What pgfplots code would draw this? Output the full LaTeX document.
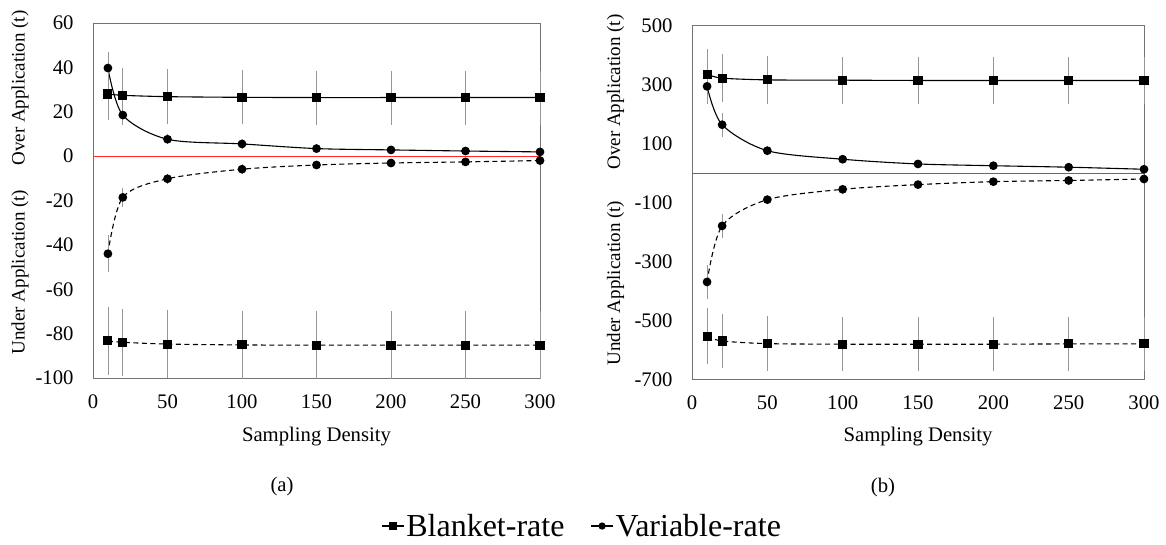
\documentclass[border=0pt]{standalone}
\usepackage{fontspec}
\setmainfont{Liberation Serif}
\usepackage{pgfplots}
\pgfplotsset{compat=1.18}
\usepackage{pgfplotstable}
\definecolor{zeroRed}{RGB}{255,40,40}
\definecolor{errGray}{RGB}{150,150,150}

\pgfplotstableread{
x y e
10 28.0 10.5
20 27.4 11
50 26.8 11
100 26.5 10.8
150 26.4 10.8
200 26.4 10.8
250 26.4 10.8
300 26.4 10.8
}\aBO
\pgfplotstableread{
x y e
10 39.7 6
20 18.5 3
50 7.6 1
100 5.5 0.8
150 3.4 0.5
200 2.8 0.5
250 2.3 0.4
300 1.9 0.4
}\aVO
\pgfplotstableread{
x y e
10 -44.0 7
20 -18.6 3
50 -10.2 1
100 -5.9 0.8
150 -4.0 0.5
200 -3.1 0.5
250 -2.6 0.4
300 -2.0 0.4
}\aVU
\pgfplotstableread{
x y e
10 -83.3 14
20 -83.9 13.7
50 -84.7 13.8
100 -85.1 14
150 -85.2 14
200 -85.2 14
250 -85.2 14
300 -85.2 14
}\aBU
\pgfplotstableread{
x y e
10 335 75
20 322 70
50 316 70
100 315 70
150 314 70
200 314 70
250 314 70
300 314 70
}\bBO
\pgfplotstableread{
x y e
10 294 50
20 164 30
50 76 5
100 47 4
150 31 3
200 25 3
250 20 3
300 13 2
}\bVO
\pgfplotstableread{
x y e
10 -369 48
20 -179 30
50 -90 5
100 -55 4
150 -39 3
200 -29 3
250 -25 3
300 -20 2
}\bVU
\pgfplotstableread{
x y e
10 -553 85
20 -569 82
50 -578 82
100 -580 82
150 -580 82
200 -580 82
250 -579 82
300 -579 82
}\bBU

\newcommand{\tfont}{\fontsize{20.7}{24}\selectfont}
\pgfplotsset{
  myaxis/.style={
    scale only axis, xmin=0, xmax=300, xtick={0,50,...,300},
    axis line style={draw=black!55, line width=0.8pt},
    major tick length=0pt,
    tick label style={font=\tfont},
    /pgf/number format/assume math mode=true,
    xticklabel style={yshift=-13pt},
    yticklabel style={xshift=-16pt},
    clip=false,
  },
  eb/.style={
    error bars/y dir=both, error bars/y explicit,
    error bars/error bar style={solid, color=errGray, line width=0.7pt},
    error bars/error mark options={solid, color=errGray, line width=0.7pt, mark size=3pt},
  },
  sq/.style={black, line width=1.1pt, smooth, mark=square*, mark size=4pt, mark options={solid}, forget plot, eb},
  ci/.style={black, line width=1.1pt, smooth, mark=*, mark size=3.8pt, mark options={solid}, forget plot, eb},
  dsh/.style={dash pattern=on 5pt off 3.5pt},
  zl/.style={color=zeroRed, solid, line width=1.2pt, forget plot, no marks, sharp plot},
}

\begin{document}
\begin{tikzpicture}
\useasboundingbox (0,0) rectangle (1166pt,544pt);
\begin{axis}[myaxis, at={(93pt,166pt)}, anchor=south west, width=447pt, height=355pt,
  ymin=-100, ymax=60, ytick={-100,-80,...,60},
  legend style={at={(1.094,-0.417)}, anchor=center, draw=none, fill=none,
    font=\fontsize{32}{38}\selectfont, inner sep=0pt,
    /tikz/every even column/.append style={column sep=24pt}},
  legend columns=2,
  legend image code/.code={\draw[mark repeat=2,mark phase=2,#1] plot coordinates {(0pt,0pt) (11pt,0pt) (22pt,0pt)};},
]
\addplot[zl] coordinates {(0,0) (300,0)};
\addplot[sq] table[x=x,y=y,y error=e] {\aBO};
\addplot[sq, dsh] table[x=x,y=y,y error=e] {\aBU};
\addplot[ci] table[x=x,y=y,y error=e] {\aVO};
\addplot[ci, dsh] table[x=x,y=y,y error=e] {\aVU};
\addlegendimage{black, line width=1.2pt, mark=square*, mark size=3.3pt}
\addlegendentry{Blanket-rate}
\addlegendimage{black, line width=1.2pt, mark=*, mark size=3pt}
\addlegendentry{Variable-rate}
\end{axis}
\begin{axis}[myaxis, at={(692pt,164.4pt)}, anchor=south west, width=452pt, height=354pt,
  ymin=-700, ymax=500, ytick={-700,-500,...,500}]
\addplot[zl] coordinates {(0,0) (300,0)};
\addplot[sq] table[x=x,y=y,y error=e] {\bBO};
\addplot[sq, dsh] table[x=x,y=y,y error=e] {\bBU};
\addplot[ci] table[x=x,y=y,y error=e] {\bVO};
\addplot[ci, dsh] table[x=x,y=y,y error=e] {\bVU};
\end{axis}
\node[rotate=90, font=\fontsize{19}{23}\selectfont] at (20pt,456pt) {Over Application (t)};
\node[rotate=90, font=\fontsize{19}{23}\selectfont] at (20pt,272pt) {Under Application (t)};
\node[rotate=90, font=\fontsize{19}{23}\selectfont] at (615.5pt,452pt) {Over Application (t)};
\node[rotate=90, font=\fontsize{19}{23}\selectfont] at (615.5pt,261pt) {Under Application (t)};
\node[font=\tfont] at (316.5pt,107pt) {Sampling Density};
\node[font=\tfont] at (918pt,107pt) {Sampling Density};
\node[font=\tfont] at (282pt,57pt) {(a)};
\node[font=\tfont] at (883pt,56pt) {(b)};
\end{tikzpicture}
\end{document}
